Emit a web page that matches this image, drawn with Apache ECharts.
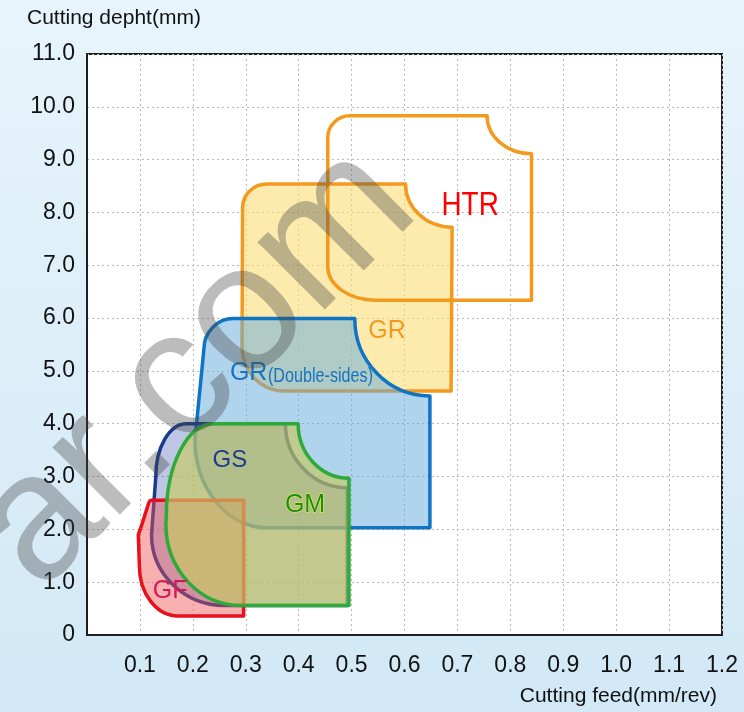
<!DOCTYPE html>
<html>
<head>
<meta charset="utf-8">
<script src="https://cdn.jsdelivr.net/npm/echarts@6/dist/echarts.min.js"></script>
<style>
  html, body { margin: 0; padding: 0; }
  #chart { width: 744px; height: 712px; }
</style>
</head>
<body>
<div id="chart"></div>
<script>
// Axis tick labels
var xTickLabels = ['', '0.1', '0.2', '0.3', '0.4', '0.5', '0.6', '0.7', '0.8', '0.9', '1.0', '1.1', '1.2'];
var yTickLabels = ['0', '1.0', '2.0', '3.0', '4.0', '5.0', '6.0', '7.0', '8.0', '9.0', '10.0', '11.0'];

// Application ranges (feed mm/rev, depth mm).
// 'M'/'L' = point, 'R' = rounded corner: [corner point, end point]
var htrOutline = [
  ['M', 0.497, 9.83], ['L', 0.756, 9.83],
  ['R', 0.756, 9.11, 0.840, 9.11],
  ['L', 0.840, 6.34], ['L', 0.545, 6.34],
  ['R', 0.455, 6.34, 0.455, 6.97],
  ['L', 0.455, 9.42],
  ['R', 0.455, 9.83, 0.497, 9.83]
];
var grOutline = [
  ['M', 0.340, 8.54], ['L', 0.602, 8.54],
  ['R', 0.602, 7.72, 0.690, 7.72],
  ['L', 0.688, 4.62], ['L', 0.372, 4.62],
  ['R', 0.293, 4.62, 0.293, 5.45],
  ['L', 0.294, 8.09],
  ['R', 0.294, 8.54, 0.340, 8.54]
];
var grdsOutline = [
  ['M', 0.277, 5.99], ['L', 0.506, 5.99],
  ['R', 0.506, 4.525, 0.648, 4.525],
  ['L', 0.648, 2.03], ['L', 0.340, 2.03],
  ['R', 0.204, 2.03, 0.204, 3.70],
  ['L', 0.221, 5.42],
  ['R', 0.221, 5.99, 0.277, 5.99]
];
var gsOutline = [
  ['M', 0.188, 4.00], ['L', 0.375, 4.00],
  ['R', 0.375, 2.79, 0.492, 2.79],
  ['L', 0.492, 0.56], ['L', 0.260, 0.56],
  ['R', 0.122, 0.56, 0.122, 1.90],
  ['L', 0.130, 3.00],
  ['R', 0.130, 4.00, 0.188, 4.00]
];
var gfOutline = [
  ['M', 0.122, 2.55], ['L', 0.296, 2.55],
  ['L', 0.296, 0.36], ['L', 0.172, 0.36],
  ['R', 0.099, 0.36, 0.099, 1.30],
  ['L', 0.097, 1.90], ['L', 0.104, 2.10],
  ['L', 0.116, 2.48],
  ['R', 0.118, 2.55, 0.122, 2.55]
];
var gmOutline = [
  ['M', 0.239, 4.00], ['L', 0.399, 4.00],
  ['R', 0.399, 2.97, 0.495, 2.97],
  ['L', 0.495, 0.56], ['L', 0.290, 0.56],
  ['R', 0.149, 0.56, 0.149, 2.10],
  ['L', 0.150, 2.27],
  ['R', 0.150, 4.00, 0.239, 4.00]
];

// Range names and where they are written (feed, depth)
var rangeNames = [['HTR'], ['GR'], ['GR', '(Double-sides)'], ['GS'], ['GM'], ['GF']];
var nameAnchors = [[0.724, 8.12], [0.567, 5.76], [0.270, 4.96], [0.270, 3.31], [0.412, 2.46], [0.157, 0.83]];

var SANS = '"Liberation Sans", Arial, sans-serif';

function outlinePath(cmds, api) {
  var d = '';
  var cur = null;
  var K = 0.5523;
  cmds.forEach(function (c) {
    if (c[0] === 'M' || c[0] === 'L') {
      var p = api.coord([c[1], c[2]]);
      d += c[0] + ' ' + p[0].toFixed(2) + ' ' + p[1].toFixed(2) + ' ';
      cur = p;
    } else {
      var k = api.coord([c[1], c[2]]);
      var e = api.coord([c[3], c[4]]);
      var c1 = [cur[0] + (k[0] - cur[0]) * K, cur[1] + (k[1] - cur[1]) * K];
      var c2 = [e[0] + (k[0] - e[0]) * K, e[1] + (k[1] - e[1]) * K];
      d += 'C ' + c1[0].toFixed(2) + ' ' + c1[1].toFixed(2) + ' ' +
           c2[0].toFixed(2) + ' ' + c2[1].toFixed(2) + ' ' +
           e[0].toFixed(2) + ' ' + e[1].toFixed(2) + ' ';
      cur = e;
    }
  });
  return d + 'Z';
}

function rangeSeries(name, cmds, fill, stroke) {
  return {
    type: 'custom',
    name: name,
    coordinateSystem: 'cartesian2d',
    silent: true,
    data: [[cmds[0][1], cmds[0][2]]],
    renderItem: function (params, api) {
      return {
        type: 'path',
        shape: { pathData: outlinePath(cmds, api) },
        style: { fill: fill, stroke: stroke, lineWidth: 3.5, lineJoin: 'round' }
      };
    }
  };
}

// Text look of each range name; a second entry styles the trailing part
var nameLooks = [
  [{ size: 34, color: '#ff0000', sx: 0.82, align: 'center' }],
  [{ size: 25, color: '#f39a1e', sx: 1, align: 'center' }],
  [{ size: 25, color: '#1574c2', sx: 1, align: 'left' },
   { size: 21, color: '#1574c2', sx: 0.77, align: 'left', dx: 38, dy: 3 }],
  [{ size: 24, color: '#1d3a8c', sx: 1, align: 'center' }],
  [{ size: 25, color: '#1c8c22', sx: 1, align: 'center', stroke: '#f2f23c' }],
  [{ size: 25, color: '#d2195c', sx: 1, align: 'center' }]
];

var chart = echarts.init(document.getElementById('chart'), null, { renderer: 'canvas' });

var option = {
  backgroundColor: {
    type: 'linear', x: 0, y: 0, x2: 0, y2: 1,
    colorStops: [{ offset: 0, color: '#e7f4fb' }, { offset: 1, color: '#d2e8f6' }]
  },
  animation: false,
  grid: {
    left: 87, top: 54, right: 22, bottom: 77,
    show: true, backgroundColor: '#ffffff', borderColor: '#1e1e1e', borderWidth: 2
  },
  xAxis: {
    type: 'value', min: 0, max: 1.2, interval: 0.1,
    axisLine: { show: true, onZero: false, lineStyle: { color: '#1e1e1e', width: 2 } },
    axisTick: { show: false },
    axisLabel: {
      margin: 19, color: '#111', fontSize: 23, fontFamily: SANS,
      formatter: function (v, i) { return xTickLabels[i]; }
    },
    splitLine: { show: true, lineStyle: { color: '#b8b8b8', type: [2, 3], width: 1 } }
  },
  yAxis: {
    type: 'value', min: 0, max: 11, interval: 1,
    axisLine: { show: true, lineStyle: { color: '#1e1e1e', width: 2 } },
    axisTick: { show: false },
    axisLabel: {
      margin: 12, color: '#111', fontSize: 23, fontFamily: SANS,
      formatter: function (v, i) { return yTickLabels[i]; }
    },
    splitLine: { show: true, lineStyle: { color: '#b8b8b8', type: [2, 3], width: 1 } }
  },
  series: [
    rangeSeries('GR', grOutline, 'rgba(252,222,120,0.6)', '#f39a1e'),
    rangeSeries('HTR', htrOutline, 'none', '#f39a1e'),
    rangeSeries('GR(Double-sides)', grdsOutline, 'rgba(100,170,220,0.5)', '#0f74c4'),
    rangeSeries('GS', gsOutline, 'rgba(50,80,170,0.32)', '#1a3a8c'),
    rangeSeries('GF', gfOutline, 'rgba(240,80,80,0.45)', '#e8101e'),
    rangeSeries('GM', gmOutline, 'rgba(198,200,100,0.68)', '#2eaa3a'),
    {
      type: 'custom',
      name: 'names',
      coordinateSystem: 'cartesian2d',
      silent: true,
      data: nameAnchors,
      renderItem: function (params, api) {
        var i = params.dataIndex;
        var p = api.coord([api.value(0), api.value(1)]);
        var children = rangeNames[i].map(function (txt, j) {
          var look = nameLooks[i][j];
          var style = {
            text: txt, x: 0, y: 0,
            align: look.align, verticalAlign: 'middle',
            font: look.size + 'px ' + SANS, fill: look.color
          };
          if (look.stroke) { style.stroke = look.stroke; style.lineWidth = 1; }
          return {
            type: 'text',
            x: p[0] + (look.dx || 0), y: p[1] + (look.dy || 0),
            scaleX: look.sx,
            style: style
          };
        });
        return { type: 'group', children: children };
      }
    }
  ],
  graphic: [
    {
      type: 'text', left: 27, top: 8,
      style: { text: 'Cutting depht(mm)', font: '21px ' + SANS, fill: '#111' }
    },
    {
      type: 'text', right: 27, top: 686,
      style: { text: 'Cutting feed(mm/rev)', font: '21px ' + SANS, fill: '#111' }
    },
    {
      type: 'text', x: 196, y: 368, rotation: Math.PI / 4, z: 100, silent: true,
      style: {
        text: 'ar.com', font: '180px ' + SANS, fill: 'rgba(70,70,70,0.36)',
        align: 'center', verticalAlign: 'middle'
      }
    }
  ]
};

chart.setOption(option);
</script>
</body>
</html>
